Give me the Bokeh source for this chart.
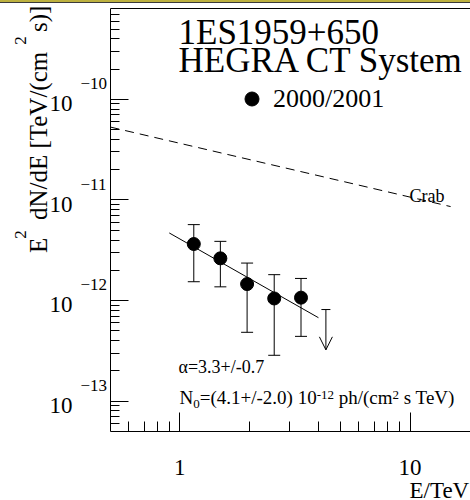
import math

from bokeh.embed import file_html
from bokeh.layouts import column
from bokeh.models import (BasicTickFormatter, ColumnDataSource, Div, FixedTicker, Label,
                          Legend, LegendItem, LinearAxis, OpenHead, Range1d, TeeHead, Whisker)
from bokeh.plotting import figure
from bokeh.resources import INLINE

# ---- data: 1ES1959+650, HEGRA CT system, 2000/2001 ----
energy = [1.15, 1.50, 1.96, 2.57, 3.36]                       # TeV
flux = [3.65e-12, 2.63e-12, 1.46e-12, 1.05e-12, 1.07e-12]      # E^2 dN/dE
flux_hi = [5.69e-12, 3.88e-12, 2.36e-12, 1.81e-12, 1.66e-12]
flux_lo = [1.54e-12, 1.37e-12, 4.84e-13, 2.86e-13, 4.41e-13]

ul_energy = [4.31]
ul_flux = [8.15e-13]
ul_arrow_end = [3.24e-13]

# power-law fit dN/dE = N0 E^-alpha
fit_alpha = 3.3
fit_alpha_err = 0.7
fit_n0 = 4.1          # 10^-12 ph/(cm^2 s TeV)
fit_n0_err = 2.0
fit_range = [0.9, 4.0]

# Crab reference spectrum
crab_energy = [0.5, 15.0]
crab_flux = [5.3e-11, 8.6e-12]

x_major = [1, 10]
x_tick_labels = ["1", "10"]
y_exponents = [-10, -11, -12, -13]

X_LIM = (0.5, 18.3)
Y_LIM = (5e-14, 8e-10)

FONT = "Liberation Serif"

# ---- layout: the axes box inside a 470 x 497 canvas ----
W, H = 470, 497
BOX_LEFT, BOX_RIGHT, BOX_TOP, BOX_BOTTOM = 110, 470, 5, 428   # canvas pixels

dec_x = (BOX_RIGHT - BOX_LEFT) / math.log10(X_LIM[1] / X_LIM[0])
dec_y = (BOX_BOTTOM - BOX_TOP) / math.log10(Y_LIM[1] / Y_LIM[0])
x_view = (X_LIM[0] / 10 ** (BOX_LEFT / dec_x), X_LIM[1] * 10 ** ((W - BOX_RIGHT) / dec_x))
y_view = (Y_LIM[0] / 10 ** ((H - BOX_BOTTOM) / dec_y), Y_LIM[1] * 10 ** (BOX_TOP / dec_y))

p = figure(width=W, height=H, x_axis_type="log", y_axis_type="log",
           x_range=Range1d(*x_view), y_range=Range1d(*y_view), output_backend="svg",
           toolbar_location=None, min_border=0, min_border_left=0, min_border_right=0,
           min_border_top=0, min_border_bottom=0)
p.grid.visible = False
p.outline_line_color = None
p.background_fill_color = "white"
p.border_fill_color = "white"


def in_range(v, lo, hi):
    return lo * 1.0001 < v < hi * 0.9999


x_minor = [m * 10.0 ** k for k in (-1, 0, 1) for m in range(2, 10)
           if in_range(m * 10.0 ** k, *X_LIM)]
y_major = [10.0 ** e for e in y_exponents]
y_minor = [m * 10.0 ** k for k in range(-14, -9) for m in range(2, 10)
           if in_range(m * 10.0 ** k, *Y_LIM)]

p.xaxis.ticker = FixedTicker(ticks=x_major, minor_ticks=x_minor)
p.yaxis.ticker = FixedTicker(ticks=y_major, minor_ticks=y_minor)
p.xaxis.fixed_location = Y_LIM[0]
p.xaxis.bounds = X_LIM
p.yaxis.fixed_location = X_LIM[0]
p.yaxis.bounds = Y_LIM

for ax in (p.xaxis[0], p.yaxis[0]):
    ax.formatter = BasicTickFormatter()
    ax.axis_line_color = "black"
    ax.major_tick_line_color = "black"
    ax.minor_tick_line_color = "black"
    ax.major_tick_out = 0
    ax.minor_tick_out = 0
    ax.major_label_text_font_size = "0px"
    ax.major_label_standoff = 0
p.xaxis.major_tick_in = 19
p.xaxis.minor_tick_in = 10
p.yaxis.major_tick_in = 18
p.yaxis.minor_tick_in = 9

# top edge of the axes box
top_axis = LinearAxis(ticker=FixedTicker(ticks=[]), formatter=BasicTickFormatter(),
                      fixed_location=Y_LIM[1], bounds=X_LIM,
                      major_tick_in=0, major_tick_out=0, minor_tick_in=0, minor_tick_out=0,
                      major_label_text_font_size="0px", major_label_standoff=0,
                      axis_line_color="black", major_tick_line_color=None,
                      minor_tick_line_color=None)
p.add_layout(top_axis, "above")

# ---- marks ----
p.line(crab_energy, crab_flux, line_color="black", line_width=1, line_dash="9 6")

fit_flux = [fit_n0 * 1e-12 * e ** (2.0 - fit_alpha) for e in fit_range]
p.line(fit_range, fit_flux, line_color="black", line_width=1)

src = ColumnDataSource(dict(e=energy, f=flux, hi=flux_hi, lo=flux_lo))
p.add_layout(Whisker(source=src, base="e", upper="hi", lower="lo", dimension="height",
                     line_color="black", line_width=1,
                     upper_head=TeeHead(size=12, line_color="black", line_width=1),
                     lower_head=TeeHead(size=12, line_color="black", line_width=1)))
pts = p.scatter("e", "f", source=src, size=13, marker="circle",
                fill_color="black", line_color="black")

# upper limit: capped line ending in an open arrow head
ul_src = ColumnDataSource(dict(e=ul_energy, top=ul_flux, tip=ul_arrow_end))
p.add_layout(Whisker(source=ul_src, base="e", upper="top", lower="tip", dimension="height",
                     line_color="black", line_width=1,
                     upper_head=TeeHead(size=9, line_color="black", line_width=1),
                     lower_head=OpenHead(size=13, line_color="black", line_width=1)))

legend = Legend(items=[LegendItem(label="2000/2001", renderers=[pts])],
                location=(234, 384), padding=0, margin=0, spacing=0,
                glyph_width=35, glyph_height=35, label_standoff=4,
                label_text_font=FONT, label_text_font_size="26px",
                label_text_color="black",
                border_line_color=None, background_fill_alpha=0)
p.add_layout(legend)

# ---- text ----
DESCENT = 0.216            # Liberation Serif descent, in em


def sx(xp):
    return xp


def sy(yp):                # page y (3px band above the canvas) -> screen y
    return H + 3 - yp


# Times advance widths (1/1000 em)
ADV = {" ": 250, "(": 333, ")": 333, "+": 564, "-": 333, "\u2212": 564, ".": 250,
       "/": 278, "=": 564, "[": 333, "]": 333, "N": 722, "E": 611, "T": 611,
       "V": 722, "c": 444, "d": 500, "e": 444, "h": 500, "m": 778, "p": 500,
       "s": 389}


def text_width(t, size):
    return sum(ADV.get(ch, 500) for ch in t) * size / 1000.0


def put(text, x, y, size, align="left", angle=0.0, y_offset=0.0, **kw):
    """Label whose alphabetic baseline passes through (x, y); offsets follow the text's rotation."""
    opts = dict(x_units="screen", y_units="screen")
    opts.update(kw)
    p.add_layout(Label(x=x, y=y, text=text, text_font=FONT,
                       text_font_size=f"{size}px", text_color="black",
                       text_align=align, text_baseline="alphabetic",
                       y_offset=y_offset + DESCENT * size, angle=angle, **opts))


def rich(xp, yp, pieces):
    """pieces: (text, size, rise); laid out along a horizontal baseline from (xp, yp)."""
    x0, y0 = sx(xp), sy(yp)
    adv = 0.0
    for text, size, rise in pieces:
        body = text.lstrip(" ")
        adv += text_width(text[:len(text) - len(body)], size)
        put(body, x0 + adv, y0 + rise, size)
        adv += text_width(body, size)


put("1ES1959+650", sx(178), sy(40), 35)
put("HEGRA CT System", sx(178), sy(68), 35)
put("Crab", sx(409), sy(199), 18)
put(f"\u03b1={fit_alpha}+/-{fit_alpha_err}", sx(178), sy(370), 18)

rich(179, 401, [("N", 19, 0), ("0", 13, -5),
                (f"=({fit_n0}+/-{fit_n0_err}) 10", 19, 0), ("-12", 13, 4),
                (" ph/(cm", 19, 0), ("2", 13, 4), (" s TeV)", 19, 0)])

# axis titles
put("E/TeV", sx(409), sy(495), 23)
Y_TITLE_BASE = 38
for text, size, rise, start in [("E", 25, 0, 258), ("2", 17, 18, 242),
                                ("dN/dE [TeV/(cm", 25, 0, 225), ("2", 17, 18, 48),
                                ("s)]", 25, 0, 37)]:
    put(text, sx(Y_TITLE_BASE - rise), sy(start), size, angle=math.pi / 2)

# tick labels
for v, t in zip(x_major, x_tick_labels):
    put(t, v, sy(472), 23, align="center", x_units="data")
for e in y_exponents:
    put("10", sx(72), 10.0 ** e, 23, align="right", y_units="data", y_offset=-9)
    put(f"\u2212{abs(e)}", sx(80), 10.0 ** e, 17, align="left", y_units="data", y_offset=12)

band = Div(text="", width=470, height=3, margin=0,
           styles={"background": "linear-gradient(#bdb13f 0px, #bdb13f 2px, #3a3a3a 2px, #3a3a3a 3px)"})

page = column(band, p, spacing=0)
open("out.html", "w").write(file_html(page, INLINE))
